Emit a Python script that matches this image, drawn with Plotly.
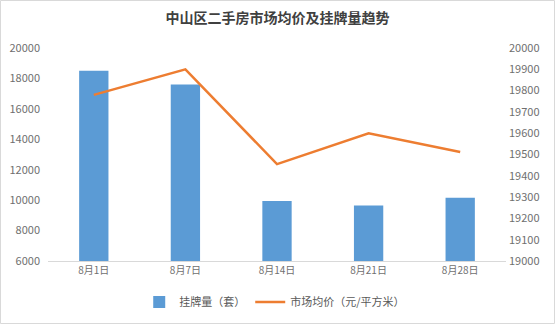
import plotly.graph_objects as go

categories = ["8月1日", "8月7日", "8月14日", "8月21日", "8月28日"]
listings = [18500, 17600, 9950, 9650, 10150]
avg_price = [19780, 19900, 19455, 19600, 19512]
left_ticks = [6000, 8000, 10000, 12000, 14000, 16000, 18000, 20000]
right_ticks = [19000, 19100, 19200, 19300, 19400, 19500, 19600, 19700, 19800, 19900, 20000]

font_family = "Noto Sans CJK SC, Noto Sans, sans-serif"
tick_color = "#6f6f6f"

fig = go.Figure()
fig.add_trace(go.Bar(
    x=categories, y=listings, name="挂牌量（套）",
    marker=dict(color="#5b9bd5", line=dict(width=0)),
    yaxis="y",
))
fig.add_trace(go.Scatter(
    x=categories, y=avg_price, name="市场均价（元/平方米）",
    mode="lines", line=dict(color="#ed7d31", width=2.5),
    yaxis="y2",
))

fig.update_layout(
    width=555, height=324,
    margin=dict(l=48, r=49, t=48, b=63, autoexpand=False),
    paper_bgcolor="white", plot_bgcolor="white",
    font=dict(family=font_family, size=11, color=tick_color),
    title=dict(text="<b>中山区二手房市场均价及挂牌量趋势</b>", x=0.5, xanchor="center",
               y=0.945, yanchor="middle",
               font=dict(size=14, color="#404040", family=font_family)),
    bargap=0.68,
    showlegend=True,
    legend=dict(orientation="h", xref="container", x=0.495, xanchor="center",
                yref="container", y=0.068, yanchor="middle",
                font=dict(size=11, color="#595959"), itemwidth=30),
    xaxis=dict(showgrid=False, showline=True, linecolor="#d9d9d9", linewidth=1,
               ticks="", tickfont=dict(size=10, color=tick_color)),
    yaxis=dict(range=[6000, 20000], tickvals=left_ticks,
               ticktext=[str(v) for v in left_ticks], showgrid=False,
               zeroline=False, showline=False, ticks="", ticklabelstandoff=7,
               tickfont=dict(size=11, color=tick_color)),
    yaxis2=dict(range=[19000, 20000], tickvals=right_ticks,
                ticktext=[str(v) for v in right_ticks], overlaying="y", side="right",
                showgrid=False, zeroline=False, showline=False, ticks="", ticklabelstandoff=2,
                tickfont=dict(size=11, color=tick_color)),
    shapes=[dict(type="rect", xref="paper", yref="paper",
                 x0=-47.5/458, x1=1 + 48.5/458, y0=-62.5/213, y1=1 + 47.5/213,
                 line=dict(color="#d9d9d9", width=1), fillcolor="rgba(0,0,0,0)", layer="below")],
)

fig.write_html("out.html")
